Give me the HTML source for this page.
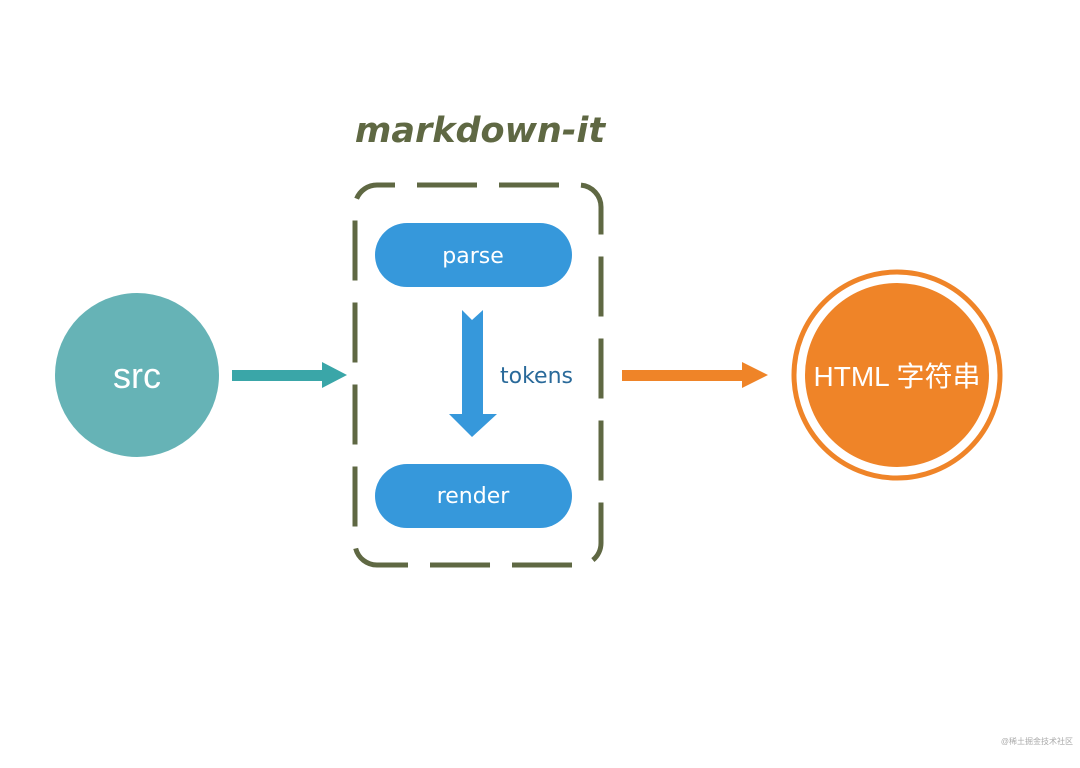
<!DOCTYPE html>
<html><head><meta charset="utf-8"><style>
html,body{margin:0;padding:0;background:#fff;}
</style></head><body>
<svg width="1080" height="763" xmlns="http://www.w3.org/2000/svg">
<rect width="1080" height="763" fill="#fff"/>
<text x="480" y="142" text-anchor="middle" font-family="DejaVu Sans, sans-serif" font-size="35" font-weight="bold" font-style="italic" fill="#5f6843">markdown-it</text>
<rect x="355" y="185" width="246" height="380" rx="22" fill="none" stroke="#5f6843" stroke-width="5" stroke-dasharray="60 22" stroke-dashoffset="-40"/>
<rect x="375" y="223" width="197" height="64" rx="32" fill="#3698db"/>
<text x="473" y="263" text-anchor="middle" font-family="DejaVu Sans, sans-serif" font-size="22" fill="#fff">parse</text>
<rect x="375" y="464" width="197" height="64" rx="32" fill="#3698db"/>
<text x="473" y="503" text-anchor="middle" font-family="DejaVu Sans, sans-serif" font-size="22" fill="#fff">render</text>
<polygon points="462,310 472,320 483,310 483,414 497,414 472,437 449,414 462,414" fill="#3698db"/>
<text x="500" y="383" font-family="DejaVu Sans, sans-serif" font-size="22" fill="#2a6a9a">tokens</text>
<circle cx="137" cy="375" r="82" fill="#66b3b6"/>
<text x="137" y="388" text-anchor="middle" font-family="Liberation Sans, sans-serif" font-size="36" fill="#fff">src</text>
<polygon points="232,370 322,370 322,362 347,375 322,388 322,381 232,381" fill="#3aa6a8"/>
<polygon points="622,370 742,370 742,362 768,375 742,388 742,381 622,381" fill="#ef8428"/>
<circle cx="897" cy="375" r="103" fill="none" stroke="#ef8428" stroke-width="5"/>
<circle cx="897" cy="375" r="92" fill="#ef8428"/>
<text x="897" y="386" text-anchor="middle" font-family="Liberation Sans, Noto Sans CJK SC, sans-serif" font-size="28" fill="#fff">HTML 字符串</text>
<text x="1073" y="744" text-anchor="end" font-family="Liberation Sans, Noto Sans CJK SC, sans-serif" font-size="8" fill="#aaa">@稀土掘金技术社区</text>
</svg>
</body></html>
